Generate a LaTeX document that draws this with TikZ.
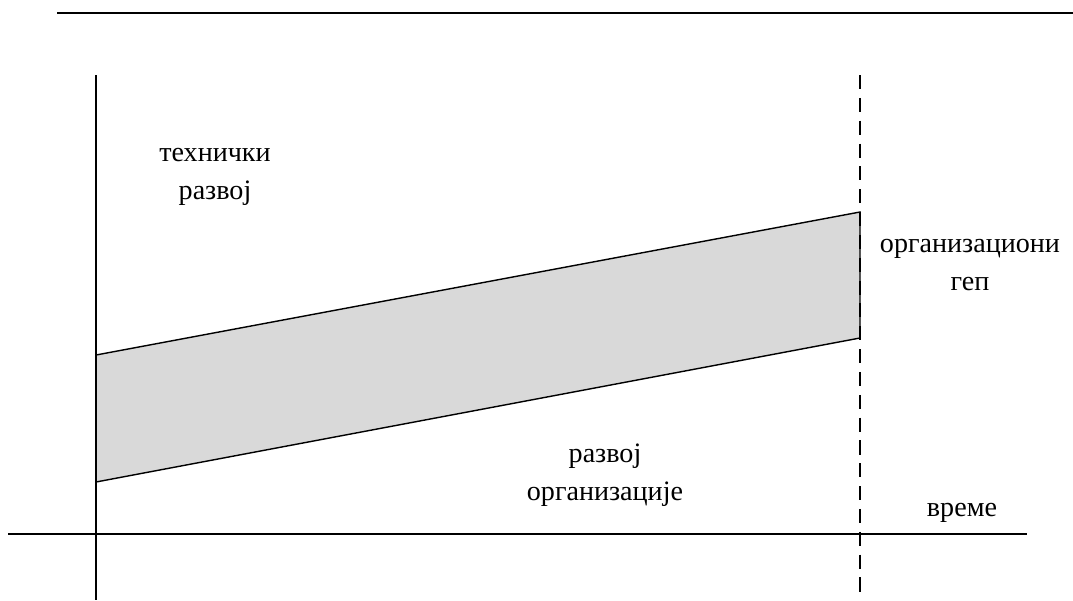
\documentclass[tikz,border=0pt]{standalone}
\usepackage{fontspec}
\setmainfont{Liberation Serif}
\usetikzlibrary{positioning}

\begin{document}
\begin{tikzpicture}[x=0.02cm, y=-0.02cm]
    \tikzstyle{label}=[align=center, font=\fontsize{16}{21.5}\selectfont, inner sep=0pt]
    \tikzstyle{axis}=[thick]
    \tikzstyle{limit}=[thick, dash pattern=on 8pt off 5pt]
    \tikzstyle{gap}=[thick, fill=black!15]

      \useasboundingbox (0,0) rectangle (1073,600);
      % band between the two lines of development
      \coordinate (a1) at (96,355);
      \coordinate (a2) at (860,212);
      \coordinate (b2) at (860,338);
      \coordinate (b1) at (96,482);
      \draw[gap] (a1) -- (a2) -- (b2) -- (b1) -- cycle;

      % axes
      \coordinate (ytop) at (96,75);
      \coordinate (ybot) at (96,600);
      \coordinate (xleft) at (8,534);
      \coordinate (xright) at (1027,534);
      \coordinate (dtop) at (860,75);
      \coordinate (dbot) at (860,600);
      \coordinate (rule1) at (57,13);
      \coordinate (rule2) at (1073,13);
      \draw[axis] (ytop) -- (ybot);
      \draw[axis] (xleft) -- (xright);
      \draw[limit] (dtop) -- (dbot);
      \draw[axis] (rule1) -- (rule2);

      \node[label] (tech) at (215,177) {технички\\развој};
      \node[label] (gep) at (970,265) {организациони\\геп};
      \node[label] (org) at (605,475) {развој\\организације};
      \node[label] (time) at (962,513) {време};
\end{tikzpicture}
\end{document}
